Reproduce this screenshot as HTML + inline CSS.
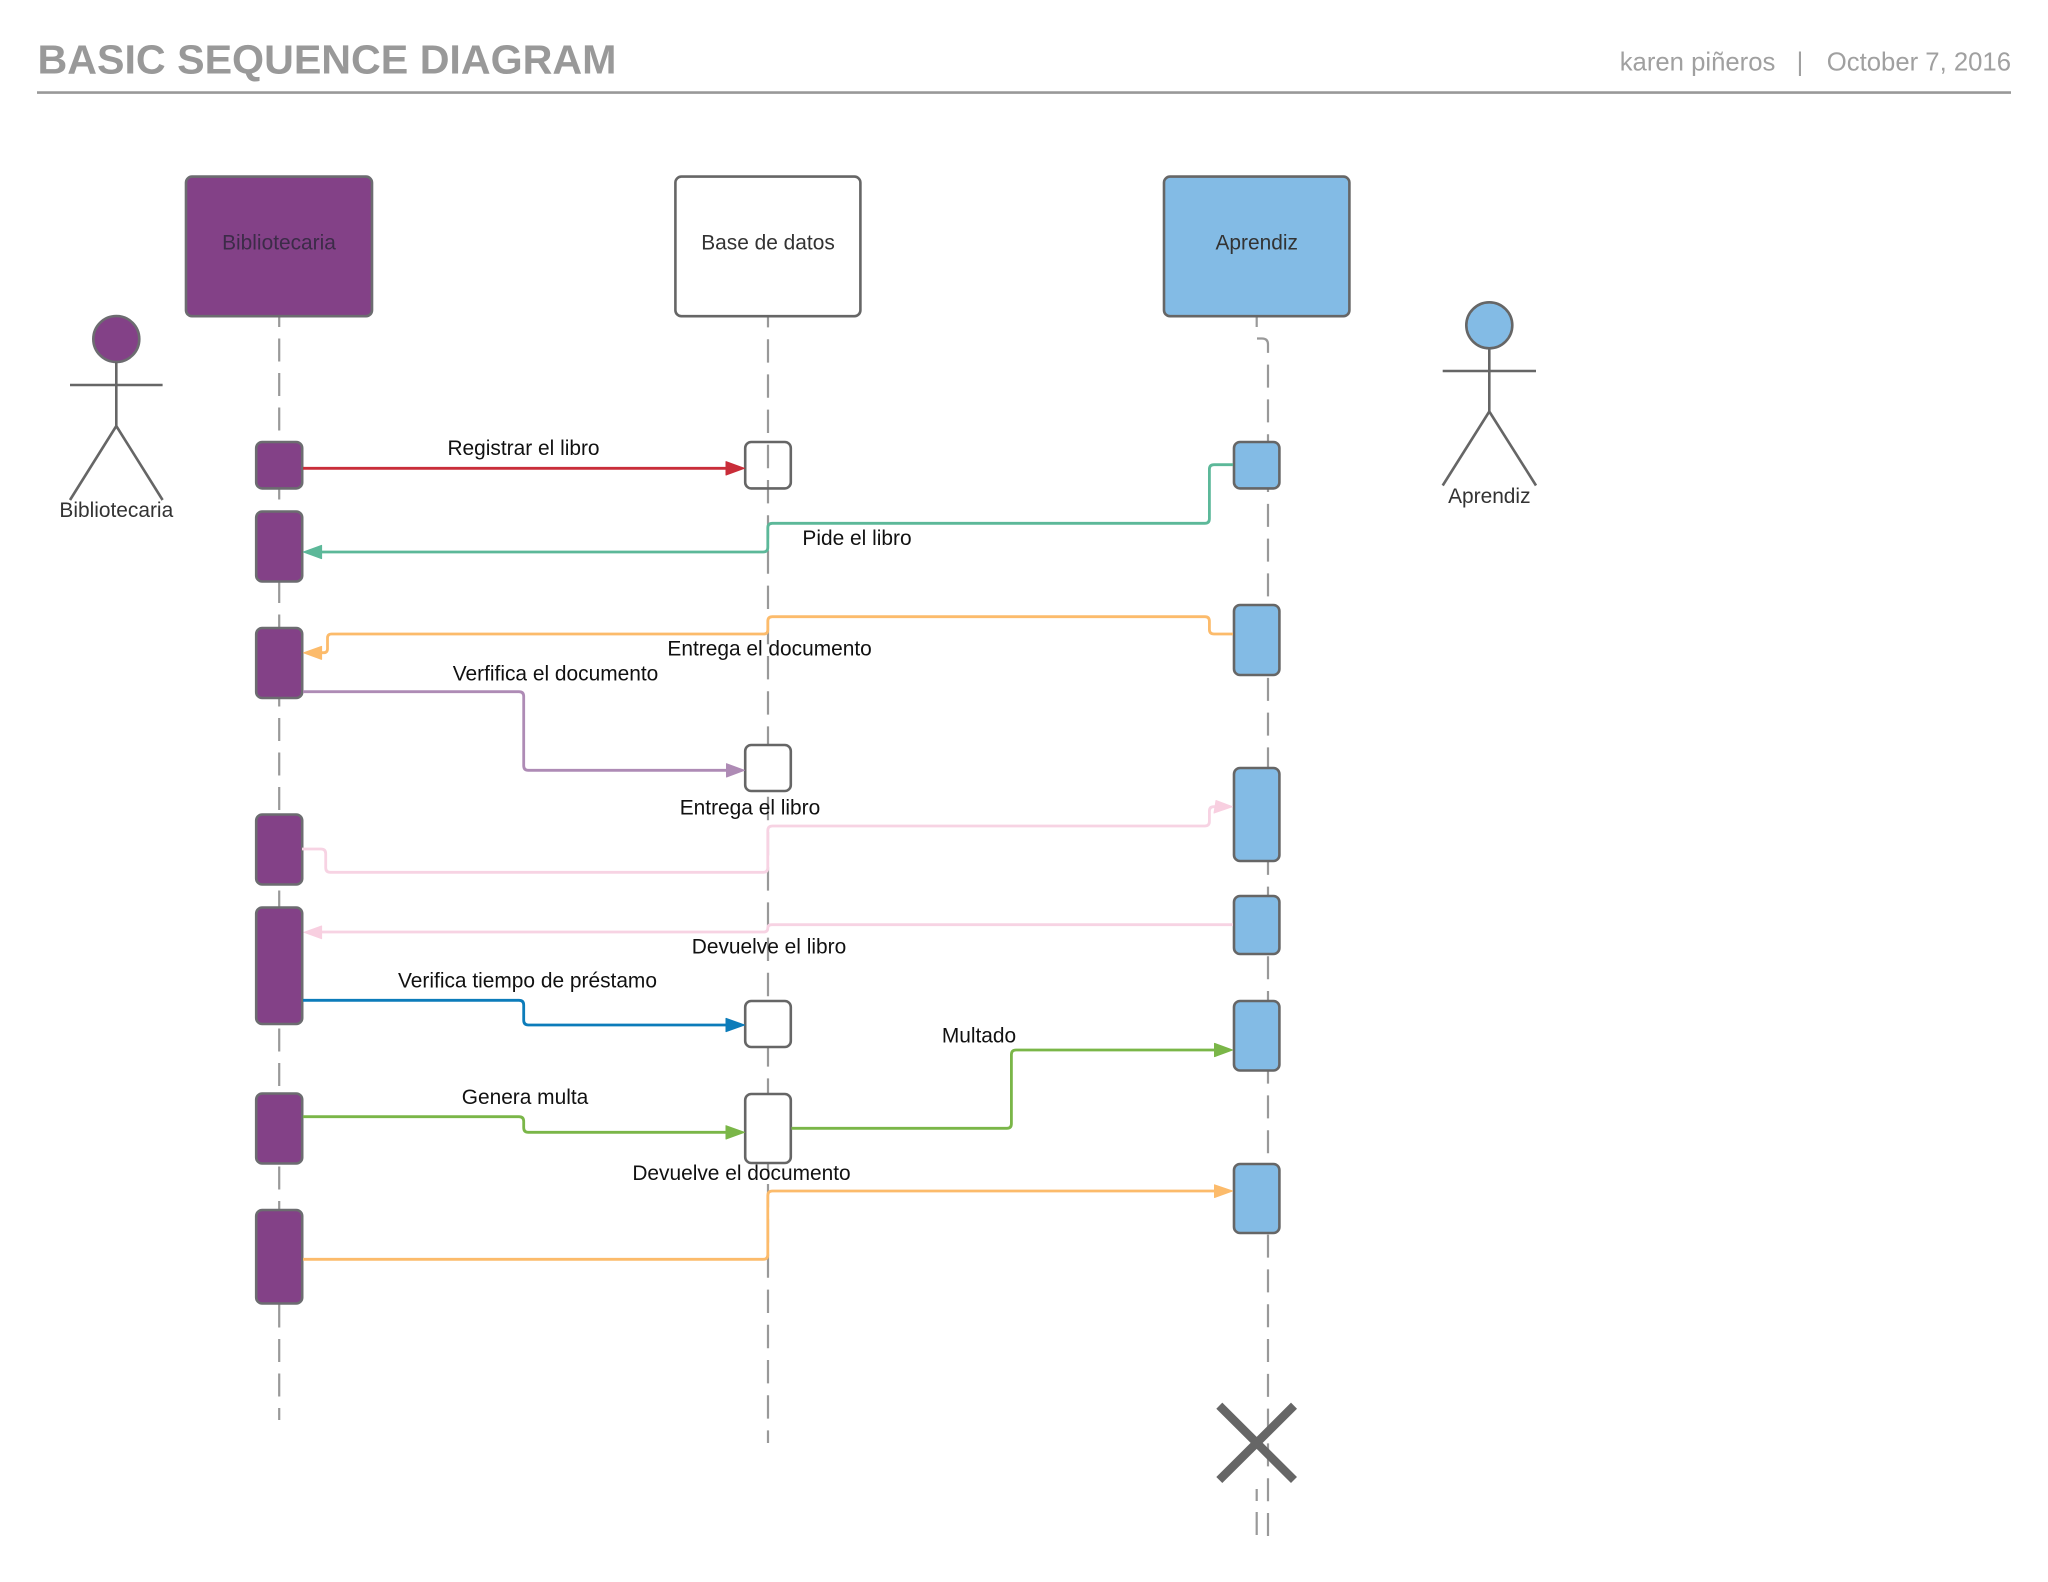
<!DOCTYPE html>
<html><head><meta charset="utf-8"><title>Basic Sequence Diagram</title>
<style>
html,body{margin:0;padding:0;background:#fff}
svg{display:block}
text{font-family:"Liberation Sans",sans-serif}
.l{font-size:20.9px;fill:#111;text-anchor:middle}
.h{font-size:20.9px;fill:#333;text-anchor:middle}
.life{fill:none;stroke:#999;stroke-width:2.2}
.c{fill:none;stroke-width:2.8}
.p{fill:#834187;stroke:#6c6c70;stroke-width:2.6}
.w{fill:#fff;stroke:#666;stroke-width:2.6}
.b{fill:#83bbe5;stroke:#666;stroke-width:2.6}
.s{stroke:#666;stroke-width:2.6;fill:none}
polygon{stroke-width:1;stroke-linejoin:round}
</style></head>
<body>
<svg width="2048" height="1582" viewBox="0 0 2048 1582" xmlns="http://www.w3.org/2000/svg">
<rect width="2048" height="1582" fill="#fff"/>
<text x="37.5" y="73.5" font-size="41.2" font-weight="bold" fill="#999">BASIC SEQUENCE DIAGRAM</text>
<text x="1619.7" y="70.6" font-size="25.7" fill="#a0a0a0">karen piñeros</text>
<text x="1800" y="70.6" font-size="25.7" fill="#a0a0a0" text-anchor="middle">|</text>
<text x="2011" y="70.6" font-size="25.7" fill="#a0a0a0" text-anchor="end">October 7, 2016</text>
<line x1="37" y1="92.6" x2="2011" y2="92.6" stroke="#999" stroke-width="2.6"/>

<!-- lifelines -->
<path class="life" stroke-dasharray="23 11.5" stroke-dashoffset="13" d="M279.2 317V1420"/>
<path class="life" stroke-dasharray="23.4 11.8" stroke-dashoffset="13" d="M768 317V1443"/>
<path class="life" stroke-dasharray="23 11.8" stroke-dashoffset="13" d="M1256.7 317V338.5H1262Q1268 338.5 1268 344.5V1537"/>
<path class="life" d="M1256.7 1489V1501M1256.7 1512V1535"/>

<!-- header boxes -->
<rect class="p" x="186" y="176.6" width="186" height="139.6" rx="6"/>
<rect class="w" x="675.4" y="176.6" width="185" height="139.6" rx="6"/>
<rect class="b" x="1164" y="176.6" width="185.4" height="139.6" rx="6"/>
<text class="h" x="279" y="249.5" style="fill:#3c2b48">Bibliotecaria</text>
<text class="h" x="768" y="249.5">Base de datos</text>
<text class="h" x="1256.7" y="249.5">Aprendiz</text>

<!-- activation bars -->
<rect class="p" x="256.2" y="442" width="46" height="46.4" rx="6"/>
<rect class="p" x="256.2" y="511.5" width="46" height="70" rx="6"/>
<rect class="p" x="256.2" y="628" width="46" height="70" rx="6"/>
<rect class="p" x="256.2" y="814.5" width="46" height="70" rx="6"/>
<rect class="p" x="256.2" y="907.5" width="46" height="116.5" rx="6"/>
<rect class="p" x="256.2" y="1093.5" width="46" height="70" rx="6"/>
<rect class="p" x="256.2" y="1210" width="46" height="93.5" rx="6"/>

<rect x="745.2" y="442" width="45.6" height="46.4" rx="6" fill="none" stroke="#666" stroke-width="2.6"/>
<rect class="w" x="745.2" y="745" width="45.6" height="46" rx="6"/>
<rect class="w" x="745.2" y="1001" width="45.6" height="46" rx="6"/>
<rect class="w" x="745.2" y="1094" width="45.6" height="69" rx="6"/>

<rect class="b" x="1234" y="442" width="45.4" height="46.4" rx="6"/>
<rect class="b" x="1234" y="605" width="45.4" height="70" rx="6"/>
<rect class="b" x="1234" y="768" width="45.4" height="93" rx="6"/>
<rect class="b" x="1234" y="896" width="45.4" height="58" rx="6"/>
<rect class="b" x="1234" y="1001" width="45.4" height="69.5" rx="6"/>
<rect class="b" x="1234" y="1164" width="45.4" height="69" rx="6"/>

<!-- connectors -->
<path class="c" stroke="#c92d39" d="M303 468.3H728"/>
<polygon fill="#c92d39" stroke="#c92d39" points="744.5,468.3 726,461.6 726,475"/>

<path class="c" stroke="#5cb899" d="M1233 464.7H1214Q1209.4 464.7 1209.4 469.3V518.7Q1209.4 523.3 1204.8 523.3H772.4Q767.8 523.3 767.8 527.9V547.4Q767.8 552 763.2 552H320"/>
<polygon fill="#5cb899" stroke="#5cb899" points="303.5,552 321.6,545.4 321.6,558.6"/>

<path class="c" stroke="#fcbb6b" d="M1233 634H1214Q1209.4 634 1209.4 629.4V621.3Q1209.4 616.7 1205 616.7H772.4Q767.8 616.7 767.8 621.3V630Q767.8 634 763.8 634H331.5Q327.5 634 327.5 638V648.7Q327.5 652.7 323.5 652.7H320"/>
<polygon fill="#fcbb6b" stroke="#fcbb6b" points="303.5,652.8 321.6,646.4 321.6,659.4"/>

<path class="c" stroke="#ae8bb5" d="M303 691.7H519Q523.7 691.7 523.7 696.4V765.6Q523.7 770.3 528.4 770.3H728"/>
<polygon fill="#ae8bb5" stroke="#ae8bb5" points="744.5,770.3 726.5,763.7 726.5,777"/>

<path class="c" stroke="#f7d3e3" d="M302 849H321Q325.7 849 325.7 853.7V867.6Q325.7 872.3 330.4 872.3H763.2Q767.8 872.3 767.8 867.7V830.6Q767.8 826 772.4 826H1204.8Q1209.4 826 1209.4 821.4V811Q1209.4 806.7 1214 806.7H1217"/>
<polygon fill="#f8cfe0" stroke="#f8cfe0" points="1232.5,806.7 1216,800.5 1214,813"/>

<path class="c" stroke="#f7d3e3" d="M1233 924.7H772Q767.8 924.7 767.8 928Q767.8 932 763.8 932H320"/>
<polygon fill="#f8cfe0" stroke="#f8cfe0" points="304,932.3 321.6,926 321.6,938.7"/>

<path class="c" stroke="#0c7cba" d="M303 1000.3H519Q523.7 1000.3 523.7 1005V1020.3Q523.7 1025 528.4 1025H728"/>
<polygon fill="#0c7cba" stroke="#0c7cba" points="744.5,1025 726,1018.4 726,1031.6"/>

<path class="c" stroke="#7ab648" d="M303 1116.7H519Q523.7 1116.7 523.7 1121.4V1127.6Q523.7 1132.3 528.4 1132.3H728"/>
<polygon fill="#7ab648" stroke="#7ab648" points="744.5,1132.3 726,1125.7 726,1139"/>

<path class="c" stroke="#7ab648" d="M791.4 1128.3H1006.8Q1011.4 1128.3 1011.4 1123.7V1054.6Q1011.4 1050 1016 1050H1216"/>
<polygon fill="#7ab648" stroke="#7ab648" points="1232.5,1050 1214.5,1043.4 1214.5,1056.6"/>

<path class="c" stroke="#fcbb6b" d="M303 1259.3H763.2Q767.8 1259.3 767.8 1254.7V1195.6Q767.8 1191 772.4 1191H1216"/>
<polygon fill="#fcbb6b" stroke="#fcbb6b" points="1232.5,1191 1214.5,1184.8 1214.5,1197.5"/>

<!-- connector labels -->
<text class="l" x="523.5" y="455">Registrar el libro</text>
<text class="l" x="857" y="545">Pide el libro</text>
<text class="l" x="769.6" y="655.7">Entrega el documento</text>
<text class="l" x="555.5" y="680.7">Verfifica el documento</text>
<text class="l" x="750" y="814.3">Entrega el libro</text>
<text class="l" x="769" y="953.3">Devuelve el libro</text>
<text class="l" x="527.5" y="987.7">Verifica tiempo de préstamo</text>
<text class="l" x="979" y="1042.3">Multado</text>
<text class="l" x="525" y="1104">Genera multa</text>
<text class="l" x="741.5" y="1180">Devuelve el documento</text>

<!-- actors -->
<ellipse class="p" cx="116.3" cy="339" rx="23" ry="23"/>
<path class="s" d="M116.3 362V426M70 385H162.6M116.3 426L70 500M116.3 426L162.6 500"/>
<text class="h" x="116.3" y="517">Bibliotecaria</text>

<ellipse class="b" cx="1489.3" cy="325.3" rx="23" ry="23"/>
<path class="s" d="M1489.3 348.5V411.5M1442.7 371H1536M1489.3 411.5L1442.7 485.5M1489.3 411.5L1536 485.5"/>
<text class="h" x="1489.3" y="503">Aprendiz</text>

<!-- destruction X -->
<path d="M1219.3 1405.7L1294 1480M1294 1405.7L1219.3 1480" stroke="#666" stroke-width="8.5" fill="none"/>
</svg>
</body></html>
